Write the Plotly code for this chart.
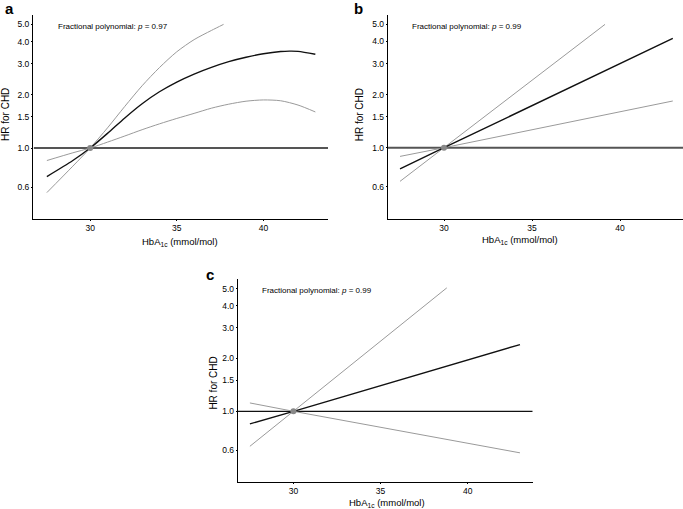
import plotly.graph_objects as go

W, H = 683, 509

# ---------------- data ----------------
# Panel a (fractional polynomial, curved)
a_x_hr = [27.5, 29, 30, 31, 32, 33, 34, 35, 36, 37, 38, 39, 40, 41, 41.5, 42, 43]
a_hr = [0.69, 0.85, 1.0, 1.21, 1.48, 1.78, 2.08, 2.36, 2.62, 2.86, 3.08, 3.26, 3.41,
        3.51, 3.53, 3.52, 3.39]
a_x_up = [27.5, 29, 30, 31, 32, 33, 34, 35, 36, 37, 37.7]
a_up = [0.56, 0.79, 1.0, 1.30, 1.72, 2.25, 2.85, 3.50, 4.10, 4.62, 5.0]
a_x_lo = [27.5, 29, 30, 31, 32, 33, 34, 35, 36, 37, 38, 39, 40, 41, 42, 43]
a_lo = [0.85, 0.94, 1.0, 1.08, 1.17, 1.27, 1.37, 1.47, 1.57, 1.68, 1.77, 1.84, 1.87,
        1.85, 1.75, 1.60]

# Panel b (linear)
b_x_hr = [27.5, 30, 43]
b_hr = [0.758, 1.0, 4.17]
b_x_up = [27.5, 30, 39.15]
b_up = [0.645, 1.0, 5.0]
b_x_lo = [27.5, 30, 43]
b_lo = [0.893, 1.0, 1.84]

# Panel c (linear)
c_x_hr = [27.5, 30, 43]
c_hr = [0.848, 1.0, 2.40]
c_x_up = [27.5, 30, 38.8]
c_up = [0.632, 1.0, 5.05]
c_x_lo = [27.5, 30, 43]
c_lo = [1.116, 1.0, 0.58]

ref_x = [30]
ref_hr = [1.0]

y_tickvals = [0.6, 1.0, 1.5, 2.0, 3.0, 4.0, 5.0]
y_ticktext = ["0.6", "1.0", "1.5", "2.0", "3.0", "4.0", "5.0"]
x_tickvals = [30, 35, 40]
x_ticktext = ["30", "35", "40"]

p_labels = ["0.97", "0.99", "0.99"]
panel_letters = ["a", "b", "c"]

FONT = "Liberation Sans, Arial, Helvetica, sans-serif"
GRAY = "#9a9a9a"
BLACK = "#111111"

fig = go.Figure()

panels = [
    dict(xs=(a_x_hr, a_x_up, a_x_lo), ys=(a_hr, a_up, a_lo), xa="x", ya="y",
         shape="spline", refcol="#555555", refw=2.0),
    dict(xs=(b_x_hr, b_x_up, b_x_lo), ys=(b_hr, b_up, b_lo), xa="x2", ya="y2",
         shape="linear", refcol="#555555", refw=2.0),
    dict(xs=(c_x_hr, c_x_up, c_x_lo), ys=(c_hr, c_up, c_lo), xa="x3", ya="y3",
         shape="linear", refcol="#111111", refw=1.2),
]

xr = [26.75, 43.73]
for p in panels:
    # reference line HR = 1
    fig.add_trace(go.Scatter(x=xr, y=[1.0, 1.0], mode="lines",
                             line=dict(color=p["refcol"], width=p["refw"]),
                             xaxis=p["xa"], yaxis=p["ya"], showlegend=False,
                             hoverinfo="skip"))
    (xh, xu, xl), (yh, yu, yl) = p["xs"], p["ys"]
    fig.add_trace(go.Scatter(x=xu, y=yu, mode="lines",
                             line=dict(color=GRAY, width=1, shape=p["shape"], smoothing=0.8),
                             xaxis=p["xa"], yaxis=p["ya"], showlegend=False))
    fig.add_trace(go.Scatter(x=xl, y=yl, mode="lines",
                             line=dict(color=GRAY, width=1, shape=p["shape"], smoothing=0.8),
                             xaxis=p["xa"], yaxis=p["ya"], showlegend=False))
    fig.add_trace(go.Scatter(x=xh, y=yh, mode="lines",
                             line=dict(color=BLACK, width=1.4, shape=p["shape"], smoothing=0.8),
                             xaxis=p["xa"], yaxis=p["ya"], showlegend=False))
    fig.add_trace(go.Scatter(x=ref_x, y=ref_hr, mode="markers",
                             marker=dict(color="#888888", size=6),
                             xaxis=p["xa"], yaxis=p["ya"], showlegend=False))

def px(x):
    return x / W

def py(y):
    return 1 - y / H

# domains (pixels)
doms = [
    dict(x=(33, 328), y=(15, 219), xrange=[26.7, 43.73]),
    dict(x=(387.7, 683), y=(15, 218.5), xrange=[26.8, 43.58]),
    dict(x=(237.7, 532.7), y=(279.3, 481.7), xrange=[26.8, 43.73]),
]
yrange = [-0.401, 0.752]

axis_common = dict(showline=True, linecolor="black", linewidth=1, showgrid=False,
                   zeroline=False, ticks="outside", ticklen=1, tickcolor="black",
                   tickfont=dict(family=FONT, size=8.5, color="black"))

layout = {}
names = [("xaxis", "yaxis", "x", "y"), ("xaxis2", "yaxis2", "x2", "y2"),
         ("xaxis3", "yaxis3", "x3", "y3")]
for d, (xn, yn, xs, ys) in zip(doms, names):
    layout[xn] = dict(axis_common, domain=[px(d["x"][0]), px(d["x"][1])],
                      range=d["xrange"], tickvals=x_tickvals, ticktext=x_ticktext,
                      anchor=ys)
    layout[yn] = dict(axis_common, domain=[py(d["y"][1]), py(d["y"][0])],
                      type="log", range=yrange, tickvals=y_tickvals,
                      ticktext=y_ticktext, anchor=xs)

fig.update_layout(**layout)

ann = []
# panel letters
letter_pos = [(3, 8), (352, 8), (204, 274)]
for L, (lx, ly) in zip(panel_letters, letter_pos):
    ann.append(dict(text="<b>%s</b>" % L, x=px(lx), y=py(ly), xref="paper", yref="paper",
                    xanchor="left", yanchor="middle", showarrow=False,
                    font=dict(family=FONT, size=15, color="black")))
# p-value text
ptext_pos = [(56, 26.7), (410, 26), (260, 290.7)]
for pv, (tx, ty) in zip(p_labels, ptext_pos):
    ann.append(dict(text="Fractional polynomial: <i>p</i> = %s" % pv, x=px(tx), y=py(ty),
                    xref="paper", yref="paper", xanchor="left", yanchor="middle",
                    showarrow=False, font=dict(family=FONT, size=8, color="black")))
# x titles
xt_pos = [(180, 241.5), (520, 240), (386.7, 503)]
for tx, ty in xt_pos:
    ann.append(dict(text="HbA<sub>1c</sub> (mmol/mol)", x=px(tx), y=py(ty),
                    xref="paper", yref="paper", xanchor="center", yanchor="middle",
                    showarrow=False, font=dict(family=FONT, size=9.5, color="black")))
# y titles
yt_pos = [(5, 115), (359.3, 115), (213.3, 383.3)]
for tx, ty in yt_pos:
    ann.append(dict(text="HR for CHD", x=px(tx), y=py(ty), textangle=-90,
                    xref="paper", yref="paper", xanchor="center", yanchor="middle",
                    showarrow=False, font=dict(family=FONT, size=10, color="black")))

fig.update_layout(width=W, height=H, margin=dict(l=0, r=0, t=0, b=0),
                  paper_bgcolor="white", plot_bgcolor="white", annotations=ann,
                  showlegend=False)

fig.write_html("out.html", config={"displayModeBar": False},
               post_script="document.body.style.margin='0px';document.body.style.overflow='hidden';")
